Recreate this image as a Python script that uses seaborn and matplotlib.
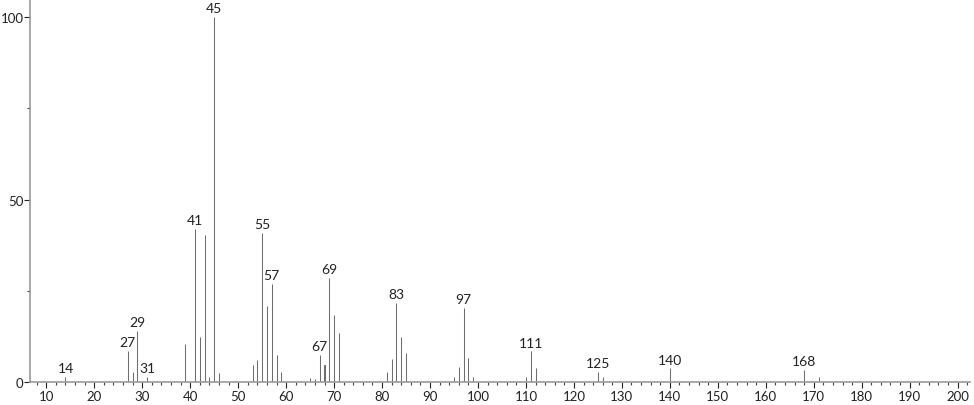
import numpy as np
import pandas as pd
import seaborn as sns
import matplotlib.pyplot as plt
from matplotlib.ticker import MultipleLocator

sns.set_style("ticks")
plt.rcParams['font.family'] = ['Lato', 'DejaVu Sans']

# mass spectrum: m/z and relative intensity (%)
mz = [14, 27, 28, 29, 31, 39, 41, 42, 43, 44, 45, 46, 53, 54, 55, 56, 57, 58, 59,
      65, 66, 67, 68, 69, 70, 71, 81, 82, 83, 84, 85, 95, 96, 97, 98, 99,
      110, 111, 112, 125, 126, 140, 168, 171]
intensity = [1.4, 8.5, 2.7, 14.0, 1.5, 10.4, 42.0, 12.4, 40.2, 1.5, 100.0, 2.4, 4.7, 5.9, 40.8,
             20.7, 26.8, 7.5, 2.7, 1.1, 0.9, 7.5, 4.7, 28.5, 18.4, 13.5, 2.7, 6.2, 21.6, 12.3,
             7.9, 1.4, 4.2, 20.3, 6.7, 1.4, 1.5, 8.4, 3.8, 2.7, 1.5, 3.7, 3.3, 1.5]
labeled = [14, 27, 29, 31, 41, 45, 55, 57, 67, 69, 83, 97, 111, 125, 140, 168]

df = pd.DataFrame({'mz': mz, 'intensity': intensity})

fig = plt.figure(figsize=(9.74, 4.06), dpi=100)
ax = fig.add_axes([0.0308, 0.0567, 0.9652, 0.9433])

# very thin bars drawn as 1px stems via their edge
sns.barplot(data=df, x='mz', y='intensity', native_scale=True, width=0.001,
            color='#6e6e6e', saturation=1, edgecolor='#6e6e6e', linewidth=0.75, ax=ax)

for m, v in zip(mz, intensity):
    if m in labeled:
        ax.annotate(str(m), (m, v), xytext=(0, 2), textcoords='offset points',
                    ha='center', va='bottom', fontsize=10, color='#222222',
                    annotation_clip=False)

ax.set_xlim(6.6, 202.6)
ax.set_ylim(0, 105)
ax.xaxis.set_major_locator(MultipleLocator(10))
ax.xaxis.set_minor_locator(MultipleLocator(2))
ax.set_yticks([0, 50, 100])
ax.yaxis.set_minor_locator(MultipleLocator(25))
ax.set_xticks(np.arange(10, 201, 10))
ax.set_xticklabels([str(t) for t in range(10, 201, 10)])
ax.set_xlabel('')
ax.set_ylabel('')
ax.tick_params(axis='both', which='major', labelsize=9.5, colors='#222222', length=4, width=0.8)
ax.tick_params(axis='both', which='minor', length=2, width=0.8, color='#444444')
ax.tick_params(axis='x', pad=2)
ax.tick_params(axis='y', pad=0.5)
sns.despine(ax=ax)
for s in ['left', 'bottom']:
    ax.spines[s].set_color('#999999')
    ax.spines[s].set_linewidth(1.2)
ax.patch.set_alpha(0)

fig.savefig('out.png', dpi=100)
